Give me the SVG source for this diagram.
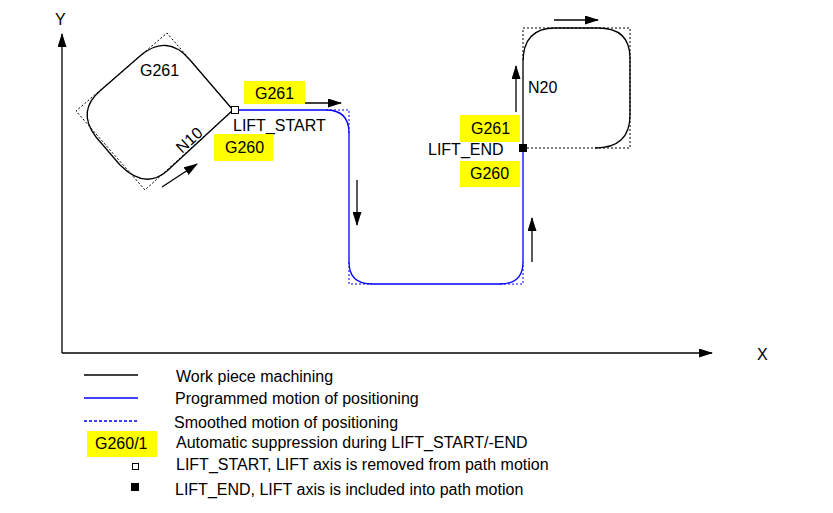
<svg xmlns="http://www.w3.org/2000/svg" width="833" height="513" viewBox="0 0 833 513">
<defs>
<marker id="ah" markerWidth="14" markerHeight="9" refX="13" refY="4.5" orient="auto" markerUnits="userSpaceOnUse"><path d="M0,0 L14,4.5 L0,9 Z" fill="#000"/></marker>
</defs>
<style>
text{font-family:"Liberation Sans",Arial,sans-serif;font-size:16px;fill:#000}
.blk{fill:none;stroke:#000;stroke-width:1.3}
.blu{fill:none;stroke:#00f;stroke-width:1.3}
.dot{fill:none;stroke:#000;stroke-width:1;stroke-dasharray:2,2}
.bdot{fill:none;stroke:#00f;stroke-width:1;stroke-dasharray:2,2}
.arr{stroke:#000;stroke-width:1.3;marker-end:url(#ah)}
.hl{fill:#ffff00}
</style>
<rect width="833" height="513" fill="#fff"/>
<g id="axes">
<line class="arr" x1="62" y1="353" x2="62" y2="34"/>
<line class="arr" x1="62" y1="353" x2="712" y2="353"/>
<text x="55" y="25">Y</text>
<text x="757" y="360">X</text>
</g>
<g id="contour1">
<path class="dot" d="M233,110 L167,33 L76,111 L145,190 Z"/>
<path class="blk" d="M233,110 L167,171 Q145,190 120,165 L96,137 Q76,111 101,90 L140,56 Q167,33 190,60 Z"/>
<text x="140" y="76">G261</text>
<text x="182" y="154" transform="rotate(-42 182 154)">N10</text>
<line class="arr" x1="162" y1="187" x2="197" y2="164"/>
</g>
<g id="positioning">
<path class="blu" d="M238,110 L326,110 Q349,110 349,133 L349,262 Q349,284 372,284 L500,284 Q523,284 523,262 L523,148"/>
<path class="bdot" d="M326,110 L349,110 L349,133 M349,262 L349,284 L372,284 M500,284 L523,284 L523,262"/>
<line class="arr" x1="357" y1="180" x2="357" y2="225"/>
<line class="arr" x1="532" y1="262" x2="532" y2="218"/>
<line class="arr" x1="304" y1="103" x2="341" y2="103"/>
</g>
<g id="contour2">
<path class="dot" d="M523,60 L523,28 L630,28 L630,148 L523,148"/>
<path class="blk" d="M523,148 L523,62 Q523,28 555,28 L598,28 Q630,28 630,58 L630,115 Q630,148 595,148"/>
<line class="arr" x1="554" y1="20" x2="598" y2="20"/>
<line class="arr" x1="516" y1="112" x2="516" y2="66"/>
<text x="528" y="93">N20</text>
</g>
<g id="liftstart">
<rect x="231.5" y="106.5" width="7" height="7" fill="#fff" stroke="#000"/>
<text x="233" y="131">LIFT_START</text>
<rect class="hl" x="244" y="81" width="61" height="23"/>
<text x="255" y="99">G261</text>
<rect class="hl" x="214" y="134" width="59" height="27"/>
<text x="225" y="153">G260</text>
</g>
<g id="liftend">
<rect x="519" y="144" width="8" height="8" fill="#000"/>
<text x="428" y="155">LIFT_END</text>
<rect class="hl" x="460" y="115" width="60" height="27"/>
<text x="471" y="134">G261</text>
<rect class="hl" x="460" y="161" width="60" height="26"/>
<text x="470" y="179">G260</text>
</g>
<g id="legend">
<line class="blk" x1="84" y1="375" x2="138" y2="375"/>
<text x="176" y="382">Work piece machining</text>
<line class="blu" x1="84" y1="398" x2="138" y2="398"/>
<text x="175" y="404">Programmed motion of positioning</text>
<line stroke="#00f" stroke-width="1.3" stroke-dasharray="3,2" x1="84" y1="421" x2="138" y2="421"/>
<text x="174" y="428">Smoothed motion of positioning</text>
<rect class="hl" x="87" y="431" width="70" height="26"/>
<text x="95" y="449">G260/1</text>
<text x="176" y="448">Automatic suppression during LIFT_START/-END</text>
<rect x="132.5" y="463.5" width="6" height="6" fill="#fff" stroke="#000"/>
<text x="176" y="470">LIFT_START, LIFT axis is removed from path motion</text>
<rect x="131" y="483" width="8" height="8" fill="#000"/>
<text x="175" y="495">LIFT_END, LIFT axis is included into path motion</text>
</g>
</svg>
